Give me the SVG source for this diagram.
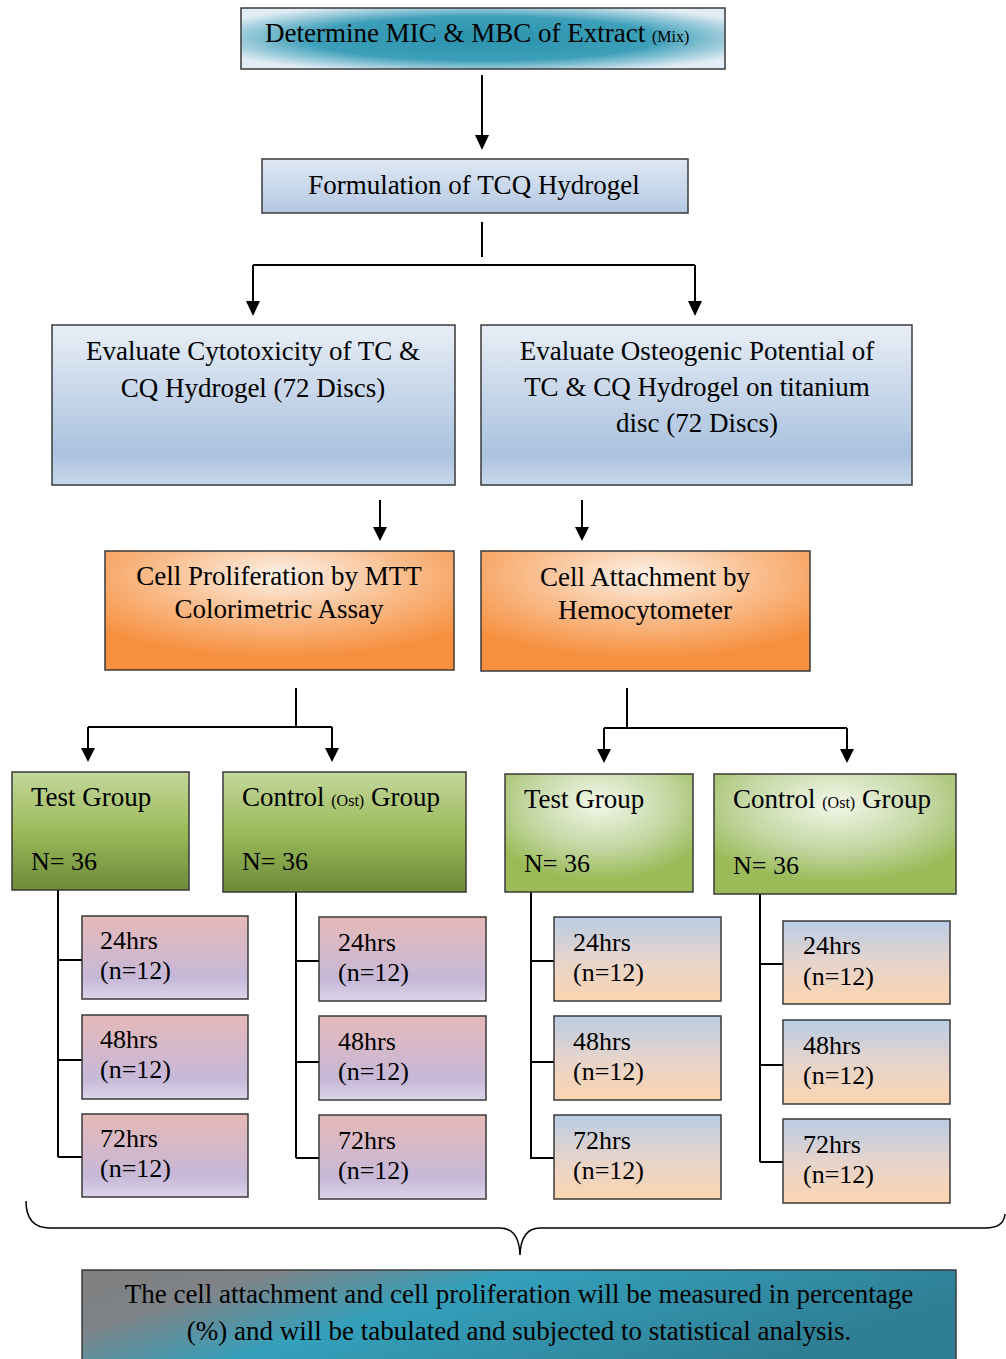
<svg xmlns="http://www.w3.org/2000/svg" width="1006" height="1359" viewBox="0 0 1006 1359">
<defs>
<radialGradient id="gTop" cx="50%" cy="50%" r="60%">
<stop offset="0" stop-color="#2b93ad"/><stop offset="0.6" stop-color="#3d9fb9"/><stop offset="1" stop-color="#e2ecf4"/>
</radialGradient>
<linearGradient id="gBlue" x1="0" y1="0" x2="0" y2="1">
<stop offset="0" stop-color="#dfe8f3"/><stop offset="1" stop-color="#b4c8e3"/>
</linearGradient>
<linearGradient id="gBlue2" x1="0" y1="0" x2="0" y2="1">
<stop offset="0" stop-color="#e8eef6"/><stop offset="0.8" stop-color="#abc2df"/><stop offset="1" stop-color="#c8d7eb"/>
</linearGradient>
<radialGradient id="gOrange" cx="50%" cy="20%" r="70%">
<stop offset="0" stop-color="#fdf1e7"/><stop offset="0.5" stop-color="#f9bd8d"/><stop offset="1" stop-color="#f68f3e"/>
</radialGradient>
<linearGradient id="gGreen" x1="0" y1="0" x2="0" y2="1">
<stop offset="0" stop-color="#c4d79d"/><stop offset="0.5" stop-color="#9bbb59"/><stop offset="1" stop-color="#6d8a3a"/>
</linearGradient>
<radialGradient id="gGreen2" cx="50%" cy="25%" r="65%">
<stop offset="0" stop-color="#f3f7ea"/><stop offset="0.6" stop-color="#c2d6a1"/><stop offset="1" stop-color="#9bbb59"/>
</radialGradient>
<linearGradient id="gPink" x1="0" y1="0" x2="0" y2="1">
<stop offset="0" stop-color="#e6b9b8"/><stop offset="0.75" stop-color="#c6b8d8"/><stop offset="1" stop-color="#dcd4e8"/>
</linearGradient>
<linearGradient id="gPeach" x1="0" y1="0" x2="0" y2="1">
<stop offset="0" stop-color="#b9cce4"/><stop offset="0.5" stop-color="#e6d4cc"/><stop offset="1" stop-color="#fcd5b0"/>
</linearGradient>
<linearGradient id="gBottom" x1="0" y1="0" x2="1" y2="0.35">
<stop offset="0" stop-color="#7f7f7f"/><stop offset="0.2" stop-color="#7f8488"/><stop offset="0.45" stop-color="#34a0bb"/><stop offset="1" stop-color="#2f7e93"/>
</linearGradient>
<style>
text{font-family:"Liberation Serif","Times New Roman",serif;fill:#000;}
.t{font-size:27px;}
.u{font-size:26px;}
.c{text-anchor:middle;}
.s{font-size:16px;}
.box{stroke:#3a3a3a;stroke-width:1.5;}
.ln{stroke:#000;stroke-width:2;fill:none;}
</style>
</defs>
<g id="connectors">
<path class="ln" d="M482,75 V137"/>
<path class="ln" d="M482,222 V257"/>
<path class="ln" d="M253,265 H695"/>
<path class="ln" d="M253,265 V302"/>
<path class="ln" d="M695,265 V302"/>
<path class="ln" d="M380,500 V528"/>
<path class="ln" d="M582,500 V528"/>
<path class="ln" d="M296,688 V727 M88,727 H332 M88,727 V748 M332,727 V748"/>
<path class="ln" d="M627,688 V728 M604,728 H847 M604,728 V749 M847,728 V749"/>
<path class="ln" d="M58,890 V1157 M58,960 H82 M58,1060 H82 M58,1157 H82"/>
<path class="ln" d="M296,892 V1158 M296,961 H319 M296,1062 H319 M296,1158 H319"/>
<path class="ln" d="M531,892 V1159 M531,961 H554 M531,1062 H554 M531,1158 H554"/>
<path class="ln" d="M760,894 V1162 M760,964 H783 M760,1065 H783 M760,1162 H783"/>
<g fill="#000">
<path d="M475,135 L489,135 L482,150 Z"/>
<path d="M246,301 L260,301 L253,316 Z"/>
<path d="M688,301 L702,301 L695,316 Z"/>
<path d="M373,527 L387,527 L380,541 Z"/>
<path d="M575,527 L589,527 L582,541 Z"/>
<path d="M81,748 L95,748 L88,762 Z"/>
<path d="M325,748 L339,748 L332,762 Z"/>
<path d="M597,749 L611,749 L604,763 Z"/>
<path d="M840,749 L854,749 L847,763 Z"/>
</g>
<path d="M26,1201 Q26,1228 50,1228 H500 Q519,1228 520,1255 Q521,1228 540,1228 H985 Q1004,1228 1005,1214" fill="none" stroke="#000" stroke-width="1.5"/>
</g>
<g id="n1"><rect class="box" x="241" y="8" width="484" height="61" fill="url(#gTop)"/>
<text class="t" x="265" y="42">Determine MIC &amp; MBC of Extract <tspan class="s">(Mix)</tspan></text></g>
<g id="n2"><rect class="box" x="262" y="159" width="426" height="54" fill="url(#gBlue)"/>
<text class="t c" x="474" y="194">Formulation of TCQ Hydrogel</text></g>
<g id="n3"><rect class="box" x="52" y="325" width="403" height="160" fill="url(#gBlue2)"/>
<text class="t c" x="253" y="360">Evaluate Cytotoxicity of TC &amp;</text>
<text class="t c" x="253" y="397">CQ Hydrogel (72 Discs)</text></g>
<g id="n4"><rect class="box" x="481" y="325" width="431" height="160" fill="url(#gBlue2)"/>
<text class="t c" x="697" y="360">Evaluate Osteogenic Potential of</text>
<text class="t c" x="697" y="396">TC &amp; CQ Hydrogel on titanium</text>
<text class="t c" x="697" y="432">disc (72 Discs)</text></g>
<g id="n5"><rect class="box" x="105" y="551" width="349" height="119" fill="url(#gOrange)"/>
<text class="t c" x="279" y="585">Cell Proliferation by MTT</text>
<text class="t c" x="279" y="618">Colorimetric Assay</text></g>
<g id="n6"><rect class="box" x="481" y="551" width="329" height="120" fill="url(#gOrange)"/>
<text class="t c" x="645" y="586">Cell Attachment by</text>
<text class="t c" x="645" y="619">Hemocytometer</text></g>
<g id="g1"><rect class="box" x="12" y="772" width="177" height="118" fill="url(#gGreen)"/>
<text class="t" x="31" y="806">Test Group</text><text class="u" x="31" y="870">N= 36</text></g>
<g id="g2"><rect class="box" x="223" y="772" width="243" height="120" fill="url(#gGreen)"/>
<text class="t" x="242" y="806">Control <tspan class="s">(Ost)</tspan> Group</text><text class="u" x="242" y="870">N= 36</text></g>
<g id="g3"><rect class="box" x="505" y="774" width="188" height="118" fill="url(#gGreen2)"/>
<text class="t" x="524" y="808">Test Group</text><text class="u" x="524" y="872">N= 36</text></g>
<g id="g4"><rect class="box" x="714" y="774" width="242" height="120" fill="url(#gGreen2)"/>
<text class="t" x="733" y="808">Control <tspan class="s">(Ost)</tspan> Group</text><text class="u" x="733" y="874">N= 36</text></g>
<g id="p1"><rect class="box" x="82" y="916" width="166" height="83" fill="url(#gPink)"/><text class="u" x="100" y="949">24hrs</text><text class="u" x="100" y="979">(n=12)</text></g>
<g id="p2"><rect class="box" x="82" y="1015" width="166" height="84" fill="url(#gPink)"/><text class="u" x="100" y="1048">48hrs</text><text class="u" x="100" y="1078">(n=12)</text></g>
<g id="p3"><rect class="box" x="82" y="1114" width="166" height="83" fill="url(#gPink)"/><text class="u" x="100" y="1147">72hrs</text><text class="u" x="100" y="1177">(n=12)</text></g>
<g id="p4"><rect class="box" x="319" y="917" width="167" height="84" fill="url(#gPink)"/><text class="u" x="338" y="951">24hrs</text><text class="u" x="338" y="981">(n=12)</text></g>
<g id="p5"><rect class="box" x="319" y="1016" width="167" height="84" fill="url(#gPink)"/><text class="u" x="338" y="1050">48hrs</text><text class="u" x="338" y="1080">(n=12)</text></g>
<g id="p6"><rect class="box" x="319" y="1115" width="167" height="84" fill="url(#gPink)"/><text class="u" x="338" y="1149">72hrs</text><text class="u" x="338" y="1179">(n=12)</text></g>
<g id="q1"><rect class="box" x="554" y="917" width="167" height="84" fill="url(#gPeach)"/><text class="u" x="573" y="951">24hrs</text><text class="u" x="573" y="981">(n=12)</text></g>
<g id="q2"><rect class="box" x="554" y="1016" width="167" height="84" fill="url(#gPeach)"/><text class="u" x="573" y="1050">48hrs</text><text class="u" x="573" y="1080">(n=12)</text></g>
<g id="q3"><rect class="box" x="554" y="1115" width="167" height="84" fill="url(#gPeach)"/><text class="u" x="573" y="1149">72hrs</text><text class="u" x="573" y="1179">(n=12)</text></g>
<g id="q4"><rect class="box" x="783" y="921" width="167" height="83" fill="url(#gPeach)"/><text class="u" x="803" y="954">24hrs</text><text class="u" x="803" y="985">(n=12)</text></g>
<g id="q5"><rect class="box" x="783" y="1020" width="167" height="84" fill="url(#gPeach)"/><text class="u" x="803" y="1054">48hrs</text><text class="u" x="803" y="1084">(n=12)</text></g>
<g id="q6"><rect class="box" x="783" y="1119" width="167" height="84" fill="url(#gPeach)"/><text class="u" x="803" y="1153">72hrs</text><text class="u" x="803" y="1183">(n=12)</text></g>
<g id="n7"><rect class="box" x="82" y="1270" width="874" height="95" fill="url(#gBottom)"/>
<text class="t c" x="519" y="1303">The cell attachment and cell proliferation will be measured in percentage</text>
<text class="t c" x="519" y="1340">(%) and will be tabulated and subjected to statistical analysis.</text></g>
</svg>
